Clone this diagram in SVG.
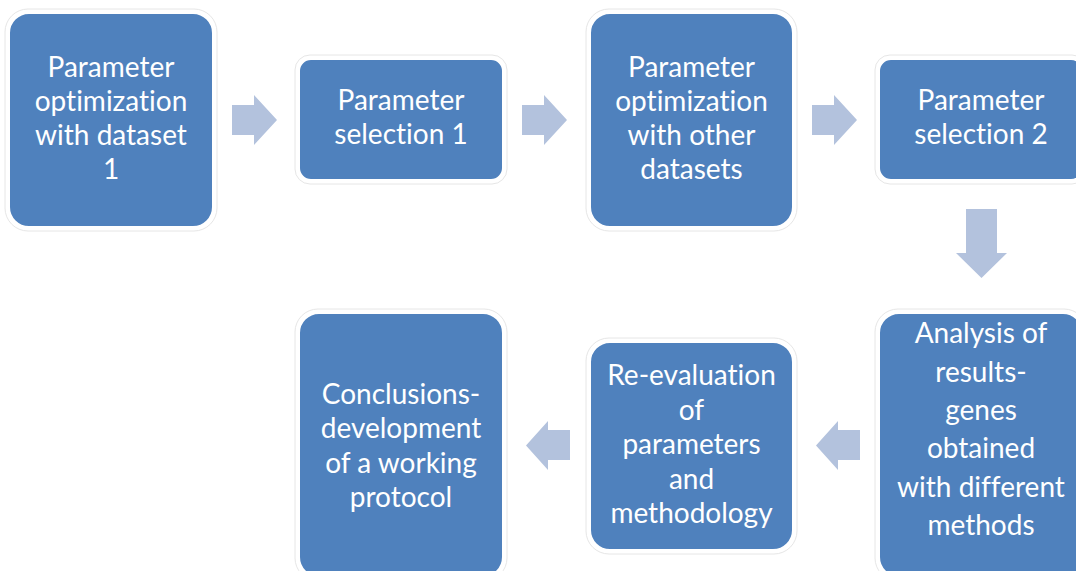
<svg xmlns="http://www.w3.org/2000/svg" width="1076" height="571" viewBox="0 0 1076 571">
<style>
.halo{fill:#ffffff;stroke:#e6e6e6;stroke-width:1}
.box{fill:#4f81bd;stroke:#ffffff;stroke-width:2}
.t{fill:#ffffff;font-family:Lato,"Open Sans",sans-serif;font-size:28px;text-anchor:middle;font-variant-ligatures:none;font-feature-settings:"liga" 0}
.arr{fill:#b3c2dd}
</style>
<rect width="1076" height="571" fill="#ffffff"/>
<g id="connectors">
<polygon class="arr" points="232,105 254,105 254,95 277,120 254,145 254,135 232,135"/>
<polygon class="arr" points="522,105 544,105 544,95 567,120 544,145 544,135 522,135"/>
<polygon class="arr" points="812,105 834,105 834,95 857,120 834,145 834,135 812,135"/>
<polygon class="arr" points="966,209 997,209 997,253 1007,253 981.5,278 956,253 966,253"/>
<polygon class="arr" points="860,430 838,430 838,421 816,445.5 838,470 838,460 860,460"/>
<polygon class="arr" points="570,430 548,430 548,421 526,445.5 548,470 548,460 570,460"/>
</g>
<g id="n1">
<rect class="halo" x="5" y="9" width="212" height="222" rx="23"/>
<rect class="box" x="9" y="13" width="204" height="214" rx="20"/>
<text class="t" x="111" y="77">Parameter</text>
<text class="t" x="111" y="111">optimization</text>
<text class="t" x="111" y="145">with dataset</text>
<text class="t" x="111" y="179">1</text>
</g>
<g id="n2">
<rect class="halo" x="295" y="55" width="212" height="129" rx="15"/>
<rect class="box" x="299" y="59" width="204" height="121" rx="12"/>
<text class="t" x="401" y="110">Parameter</text>
<text class="t" x="401" y="144">selection 1</text>
</g>
<g id="n3">
<rect class="halo" x="586" y="9" width="211" height="222" rx="23"/>
<rect class="box" x="590" y="13" width="203" height="214" rx="20"/>
<text class="t" x="691.5" y="77">Parameter</text>
<text class="t" x="691.5" y="111">optimization</text>
<text class="t" x="691.5" y="145">with other</text>
<text class="t" x="691.5" y="179">datasets</text>
</g>
<g id="n4">
<rect class="halo" x="875" y="55" width="212" height="129" rx="15"/>
<rect class="box" x="879" y="59" width="204" height="121" rx="12"/>
<text class="t" x="981" y="110">Parameter</text>
<text class="t" x="981" y="144">selection 2</text>
</g>
<g id="n5">
<rect class="halo" x="875" y="309" width="212" height="272" rx="23"/>
<rect class="box" x="879" y="313" width="204" height="264" rx="20"/>
<text class="t" x="981" y="343">Analysis of</text>
<text class="t" x="981" y="381.5">results-</text>
<text class="t" x="981" y="420">genes</text>
<text class="t" x="981" y="458">obtained</text>
<text class="t" x="981" y="496.5">with different</text>
<text class="t" x="981" y="535">methods</text>
</g>
<g id="n6">
<rect class="halo" x="586" y="338" width="211" height="216" rx="23"/>
<rect class="box" x="590" y="342" width="203" height="208" rx="20"/>
<text class="t" x="691.5" y="385">Re-evaluation</text>
<text class="t" x="691.5" y="419.5">of</text>
<text class="t" x="691.5" y="454">parameters</text>
<text class="t" x="691.5" y="488.5">and</text>
<text class="t" x="691.5" y="523">methodology</text>
</g>
<g id="n7">
<rect class="halo" x="295" y="309" width="212" height="272" rx="23"/>
<rect class="box" x="299" y="313" width="204" height="264" rx="20"/>
<text class="t" x="401" y="404">Conclusions-</text>
<text class="t" x="401" y="438">development</text>
<text class="t" x="401" y="473">of a working</text>
<text class="t" x="401" y="507">protocol</text>
</g>
</svg>
